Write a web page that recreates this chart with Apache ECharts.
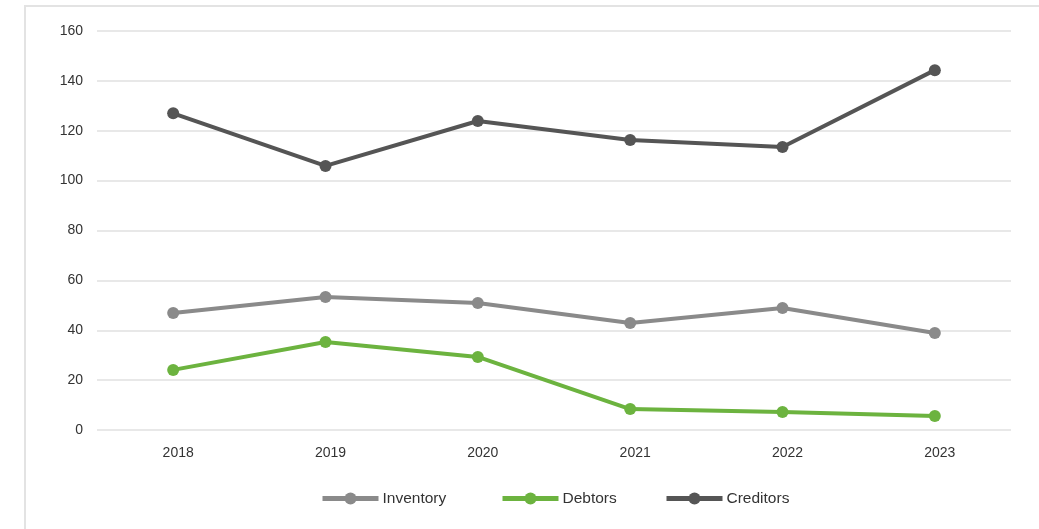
<!DOCTYPE html>
<html><head><meta charset="utf-8">
<script src="https://cdn.jsdelivr.net/npm/echarts@6/dist/echarts.min.js"></script>
<style>html,body{margin:0;padding:0;background:#fff}#c{width:1039px;height:529px}</style>
</head><body><div id="c"></div>
<script>
const categories = ['2018','2019','2020','2021','2022','2023'];
const inventory = [46.9, 53.3, 50.9, 42.9, 48.9, 38.9];
const debtors = [24.1, 35.3, 29.3, 8.4, 7.2, 5.6];
const creditors = [127.0, 105.9, 123.9, 116.3, 113.5, 144.3];
const yTicks = [0, 20, 40, 60, 80, 100, 120, 140, 160];
const seriesNames = ['Inventory', 'Debtors', 'Creditors'];

const chart = echarts.init(document.getElementById('c'));
const font = 'Liberation Sans, Arial, Helvetica, sans-serif';
function s(name, data, color) {
  return {name, type:'line', data, color, symbol:'circle', symbolSize:12,
    lineStyle:{width:4,color}, itemStyle:{color}, emphasis:{disabled:true}, z: 3};
}
const legendLefts = [320, 500, 664];
chart.setOption({
  animation:false,
  graphic:[{type:'rect', shape:{x:25,y:6,width:1100,height:600}, style:{fill:'none',stroke:'#e3e3e3',lineWidth:2}, silent:true}],
  grid:{left:97, right:28, top:31, bottom:99},
  legend: seriesNames.map((n, i) => ({
    top:490.5, left:legendLefts[i], padding:0, itemWidth:56, itemHeight:15, itemGap:4,
    lineStyle:{width:5},
    textStyle:{fontFamily:font,fontSize:15.5,color:'#333', padding:[0,0,0,-1]},
    data:[n]})),
  xAxis:{type:'category', data:categories, boundaryGap:true,
    axisLine:{show:false}, axisTick:{show:false},
    axisLabel:{fontFamily:font,fontSize:14,color:'#333',margin:16,padding:[0,0,0,10]}},
  yAxis:{type:'value', min:yTicks[0], max:yTicks[yTicks.length-1], interval:20,
    axisLine:{show:false}, axisTick:{show:false},
    axisLabel:{fontFamily:font,fontSize:14,color:'#333',margin:14},
    splitLine:{lineStyle:{color:'#e0e0e0',width:1.5}}},
  series:[s('Inventory',inventory,'#8a8a8a'), s('Debtors',debtors,'#6cb33f'), s('Creditors',creditors,'#555555')]
});
</script></body></html>
